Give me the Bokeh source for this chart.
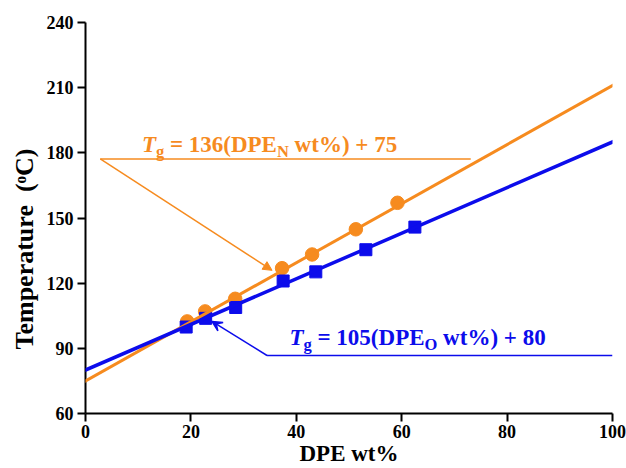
import math
from bokeh.plotting import figure
from bokeh.models import Range1d, Label, Slope, Arrow, VeeHead, NormalHead, Title
from bokeh.embed import file_html
from bokeh.resources import INLINE

# ---- data ----
dpe_n_x = [19.3, 22.7, 28.4, 37.3, 43.0, 51.3, 59.2]
dpe_n_y = [102.4, 107.0, 112.8, 126.9, 133.2, 144.8, 157.0]
dpe_o_x = [19.1, 22.8, 28.5, 37.5, 43.7, 53.2, 62.5]
dpe_o_y = [99.8, 103.8, 108.8, 121.0, 125.2, 135.4, 145.8]
fit_n = (1.36, 75)   # Tg = 136(DPE_N wt%) + 75
fit_o = (1.05, 80)   # Tg = 105(DPE_O wt%) + 80
x_ticks = [0, 20, 40, 60, 80, 100]
y_ticks = [60, 90, 120, 150, 180, 210, 240]

ORANGE = "#F68B1F"
BLUE = "#0C0CEB"
FONT = "'Liberation Serif', 'Times New Roman', Times, 'DejaVu Serif', serif"

p = figure(width=626, height=468, output_backend="svg", toolbar_location=None,
           x_range=Range1d(0, 100), y_range=Range1d(60, 240),
           min_border_left=85, min_border_right=14, min_border_top=22, min_border_bottom=54)
p.outline_line_color = None
p.grid.visible = False
p.background_fill_color = "white"
p.border_fill_color = "white"

for ax in (p.xaxis[0], p.yaxis[0]):
    ax.axis_line_width = 2
    ax.axis_line_color = "black"
    ax.major_tick_line_width = 2
    ax.minor_tick_line_width = 2
    ax.major_tick_out = 8
    ax.major_tick_in = 0
    ax.minor_tick_out = 4
    ax.minor_tick_in = 0
    ax.major_label_text_font = FONT
    ax.major_label_text_font_style = "bold"
    ax.major_label_text_font_size = "18px"
    ax.major_label_text_color = "black"

p.xaxis.ticker = x_ticks
p.yaxis.ticker = y_ticks
p.xaxis[0].ticker.num_minor_ticks = 2
p.yaxis[0].ticker.num_minor_ticks = 2
p.xaxis.major_label_standoff = 3
p.yaxis.major_label_standoff = 4

p.xaxis.axis_label = "DPE wt%"
p.xaxis.axis_label_text_font = FONT
p.xaxis.axis_label_text_font_style = "bold"
p.xaxis.axis_label_text_font_size = "23px"
p.xaxis.axis_label_text_color = "black"
p.xaxis.axis_label_standoff = 0

ytitle = Title(text="Temperature\u00a0\u00a0(ᵒC)", align="left", offset=64, standoff=10,
               text_font=FONT, text_font_style="bold", text_font_size="26px",
               text_color="black")
p.add_layout(ytitle, "left")

# fit lines
p.add_layout(Slope(gradient=fit_n[0], y_intercept=fit_n[1], line_color=ORANGE, line_width=3))
p.add_layout(Slope(gradient=fit_o[0], y_intercept=fit_o[1], line_color=BLUE, line_width=3.5))

# points
p.scatter(dpe_n_x, dpe_n_y, marker="circle", size=13.5, color=ORANGE)
p.scatter(dpe_o_x, dpe_o_y, marker="square", size=12, color=BLUE)

# annotation leader lines
p.line([73.1, 2.8], [177.2, 177.2], line_color=ORANGE, line_width=1.5)
p.add_layout(Arrow(x_start=2.8, y_start=177.2, x_end=35.4, y_end=125.9,
                   line_color=ORANGE, line_width=1.5,
                   end=NormalHead(size=9, fill_color=ORANGE, line_color=ORANGE)))
p.line([100, 34.45], [86.7, 86.7], line_color=BLUE, line_width=1.5)
p.add_layout(Arrow(x_start=34.45, y_start=86.7, x_end=24.0, y_end=102.4,
                   line_color=BLUE, line_width=1.5,
                   end=VeeHead(size=10, fill_color=BLUE, line_color=BLUE, line_width=1.5)))

# rich equation labels (Times-bold metrics)
W = {' ': 250, '(': 333, ')': 333, '%': 1000, '+': 570, '=': 570, 'D': 722, 'P': 611,
     'E': 667, 'N': 722, 'O': 778, 'w': 722, 't': 333, 'g': 500, 'T': 611}
for d in "0123456789":
    W[d] = 500

def tw(s, fs):
    return sum(W.get(c, 500) for c in s) * fs / 1000.0

def rich(x, y, parts, color, size=23, sub_size=16.5):
    off = 0.0
    for text, style, sub in parts:
        fs = sub_size if sub else size
        lead = len(text) - len(text.lstrip(" "))
        off += tw(" " * lead, fs)
        body = text.lstrip(" ")
        p.add_layout(Label(x=x, y=y, x_offset=off, y_offset=-7 if sub else 0, text=body,
                           text_font=FONT, text_font_style=style, text_font_size=f"{fs:.1f}px",
                           text_color=color, text_baseline="alphabetic", text_align="left"))
        off += tw(body, fs)

rich(10.7, 184.0, [("T", "bold italic", False), ("g", "bold", True),
                   (" = 136(DPE", "bold", False), ("N", "bold", True),
                   (" wt%) + 75", "bold", False)], ORANGE)
rich(38.7, 95.1, [("T", "bold italic", False), ("g", "bold", True),
                  (" = 105(DPE", "bold", False), ("O", "bold", True),
                  (" wt%) + 80", "bold", False)], BLUE)

open("out.html", "w").write(file_html(p, INLINE))
